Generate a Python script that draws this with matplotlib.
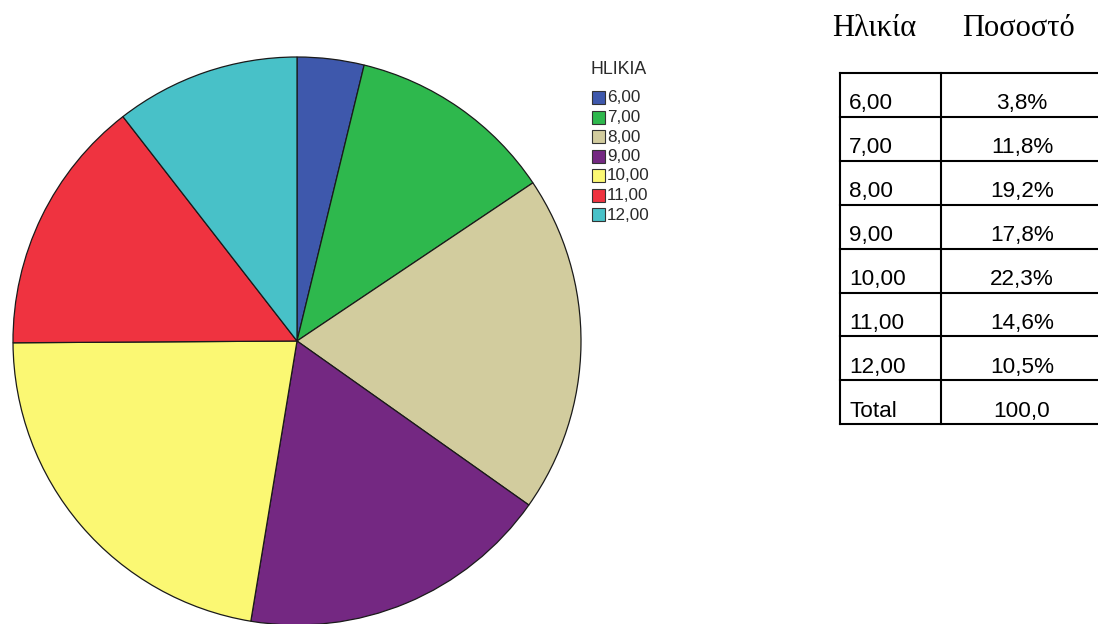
import matplotlib.pyplot as plt
from matplotlib.patches import Rectangle

# Age groups and their share of the sample
ages = ["6,00", "7,00", "8,00", "9,00", "10,00", "11,00", "12,00"]
percent = [3.8, 11.8, 19.2, 17.8, 22.3, 14.6, 10.5]
total_label = "100,0"
colors = ["#3e58ac", "#2eb84d", "#d2cc9e", "#742882", "#fbf873", "#ef3340", "#48c1c8"]

W, H = 1098, 624
fig = plt.figure(figsize=(W / 100, H / 100), dpi=100)

# ------------------------------------------------------------------
# Pie (axes placed in pixel units so the circle lands where we want)
# ------------------------------------------------------------------
cx, cy, r = 297, 341, 284
ax = fig.add_axes([(cx - r) / W, (H - cy - r) / H, 2 * r / W, 2 * r / H])
ax.pie(
    percent,
    colors=colors,
    startangle=90,
    counterclock=False,
    radius=1,
    wedgeprops=dict(edgecolor="#1a1a1a", linewidth=0.9),
)
ax.set_xlim(-1, 1)
ax.set_ylim(-1, 1)
ax.set_aspect("equal")
ax.axis("off")
for p in ax.patches:
    p.set_clip_on(False)

# ------------------------------------------------------------------
# Overlay in pixel coordinates: legend and table
# ------------------------------------------------------------------
ov = fig.add_axes([0, 0, 1, 1])
ov.set_xlim(0, W)
ov.set_ylim(H, 0)
ov.axis("off")

sans = "Liberation Sans"
serif = "Liberation Serif"

# legend
ov.text(591, 70, "HLIKIA", fontsize=12.8, family=sans, color="#2a2a2a", va="center")
for i, (lab, col) in enumerate(zip(ages, colors)):
    y = 97.5 + 19.5 * i
    ov.add_patch(Rectangle((592, y - 6.5), 13, 13, facecolor=col,
                           edgecolor="#333333", linewidth=0.8))
    ov.text(607, y + 0.5, lab, fontsize=12.3, family=sans, color="#2a2a2a",
            va="center")

# table headers
ov.text(832, 29, "Ηλικία", fontsize=22, family=serif, va="center")
ov.text(962, 29, "Ποσοστό", fontsize=22, family=serif, va="center")

# table body
x0, x1, x2 = 840, 941, 1104
top, rh = 73, 43.9
rows = [(a, f"{p:.1f}%".replace(".", ",")) for a, p in zip(ages, percent)]
rows.append(("Total", total_label))
n = len(rows)
lw = 1.5
for i in range(n + 1):
    y = top + rh * i
    ov.plot([x0, x2], [y, y], color="black", lw=lw, solid_capstyle="projecting")
for x in (x0, x1, x2):
    ov.plot([x, x], [top, top + rh * n], color="black", lw=lw,
            solid_capstyle="projecting")
for i, (a, p) in enumerate(rows):
    yc = top + rh * i + 31
    ov.text(849, yc, a, fontsize=16.2, family=sans, va="center")
    ov.text(1022, yc, p, fontsize=16.2, family=sans, va="center", ha="center")

fig.savefig("out.png", dpi=100, facecolor="white")
